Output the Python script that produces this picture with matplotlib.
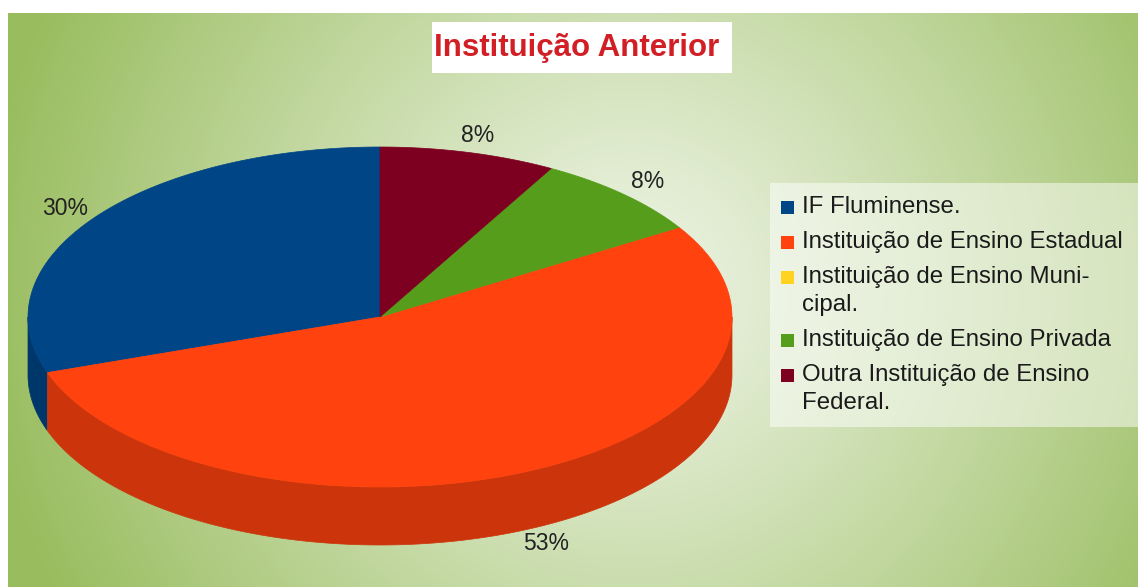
import numpy as np
import matplotlib
matplotlib.use("Agg")
import matplotlib.pyplot as plt
from matplotlib.patches import Polygon, Rectangle
from matplotlib.colors import to_rgb

# ---- data ----
categories = ["IF Fluminense.", "Instituição de Ensino Estadual",
              "Instituição de Ensino Municipal.", "Instituição de Ensino Privada",
              "Outra Instituição de Ensino Federal."]
legend_labels = ["IF Fluminense.", "Instituição de Ensino Estadual",
                 "Instituição de Ensino Muni-\ncipal.", "Instituição de Ensino Privada",
                 "Outra Instituição de Ensino\nFederal."]
values = [30, 53, 0, 8, 8]
colors = ["#004586", "#ff420e", "#ffd320", "#579d1c", "#7e0021"]
title = "Instituição Anterior"

plt.rcParams['font.family'] = ['Liberation Sans', 'DejaVu Sans']

W, H = 1138, 587
fig = plt.figure(figsize=(W / 100, H / 100), dpi=100)
ax = fig.add_axes([0, 0, 1, 1])
ax.set_xlim(0, W)
ax.set_ylim(H, 0)
ax.axis('off')

# ---- background gradient ----
x0, y0 = 8, 13
yy, xx = np.mgrid[y0:H, x0:W].astype(float)
d = np.sqrt((xx - 630) ** 2 + (yy - 290) ** 2) / 650.0
t = np.clip(d, 0, 1) ** 1.1
light = np.array([0.935, 0.960, 0.905])
dark = np.array([0.600, 0.740, 0.370])
img = light[None, None, :] * (1 - t[..., None]) + dark[None, None, :] * t[..., None]
ax.imshow(img, extent=[x0, W, H, y0], zorder=0, interpolation='bilinear', aspect='auto')

# ---- 3D pie ----
cx, cy, rx, ry, depth = 380, 317, 352, 170, 58
total = float(sum(values))
start = 90.0
angles = []
a = start
for v in values:
    span = v / total * 360.0
    angles.append((a, a + span))
    a += span

def pt(deg, dy=0.0, f=1.0):
    r = np.deg2rad(deg)
    return cx + f * rx * np.cos(r), cy - f * ry * np.sin(r) + dy

def darker(c, k=0.8):
    r, g, b = to_rgb(c)
    return (r * k, g * k, b * k)

# side walls (front half: parametric angles 180..360 mod 360)
for (a1, a2), col in zip(angles, colors):
    if a2 - a1 <= 0:
        continue
    for off in (0, 360, -360):
        lo = max(a1, 180 + off)
        hi = min(a2, 360 + off)
        if hi > lo:
            ts = np.linspace(lo, hi, 200)
            top = [pt(tt) for tt in ts]
            bot = [pt(tt, depth) for tt in ts[::-1]]
            ax.add_patch(Polygon(top + bot, closed=True, facecolor=darker(col),
                                 edgecolor=darker(col), lw=0.5, zorder=2))

# top faces
for (a1, a2), col in zip(angles, colors):
    if a2 - a1 <= 0:
        continue
    ts = np.linspace(a1, a2, 300)
    poly = [(cx, cy)] + [pt(tt) for tt in ts]
    ax.add_patch(Polygon(poly, closed=True, facecolor=col, edgecolor=col,
                         lw=0.5, zorder=3))

# percentage labels
for (a1, a2), v in zip(angles, values):
    if v <= 0:
        continue
    mid = (a1 + a2) / 2.0
    s = np.sin(np.deg2rad(mid))
    dy = depth if s < 0 else 0
    lx, ly = pt(mid, dy, 1.1)
    ax.text(lx, ly, f"{v}%", ha='center', va='center', fontsize=16.5,
            color='#222222', zorder=5)

# ---- title ----
ax.add_patch(Rectangle((432, 22), 300, 51, facecolor='white', edgecolor='none', zorder=4))
ax.text(577, 48, title, ha='center', va='center', fontsize=22.5, fontweight='bold',
        color='#d21f26', zorder=5)

# ---- legend ----
ax.add_patch(Rectangle((770, 183), W - 770, 244, facecolor='white', alpha=0.5,
                       edgecolor='none', zorder=4))
y = 207
for lab, col in zip(legend_labels, colors):
    lines = lab.split("\n")
    ax.add_patch(Rectangle((781, y - 6), 13, 13, facecolor=col, edgecolor='none', zorder=5))
    for j, line in enumerate(lines):
        ax.text(802, y + j * 28, line, ha='left', va='center', fontsize=17.3,
                color='#1a1a1a', zorder=5)
    y += 28 * (len(lines) - 1) + 35

fig.savefig("out.png", dpi=100)
